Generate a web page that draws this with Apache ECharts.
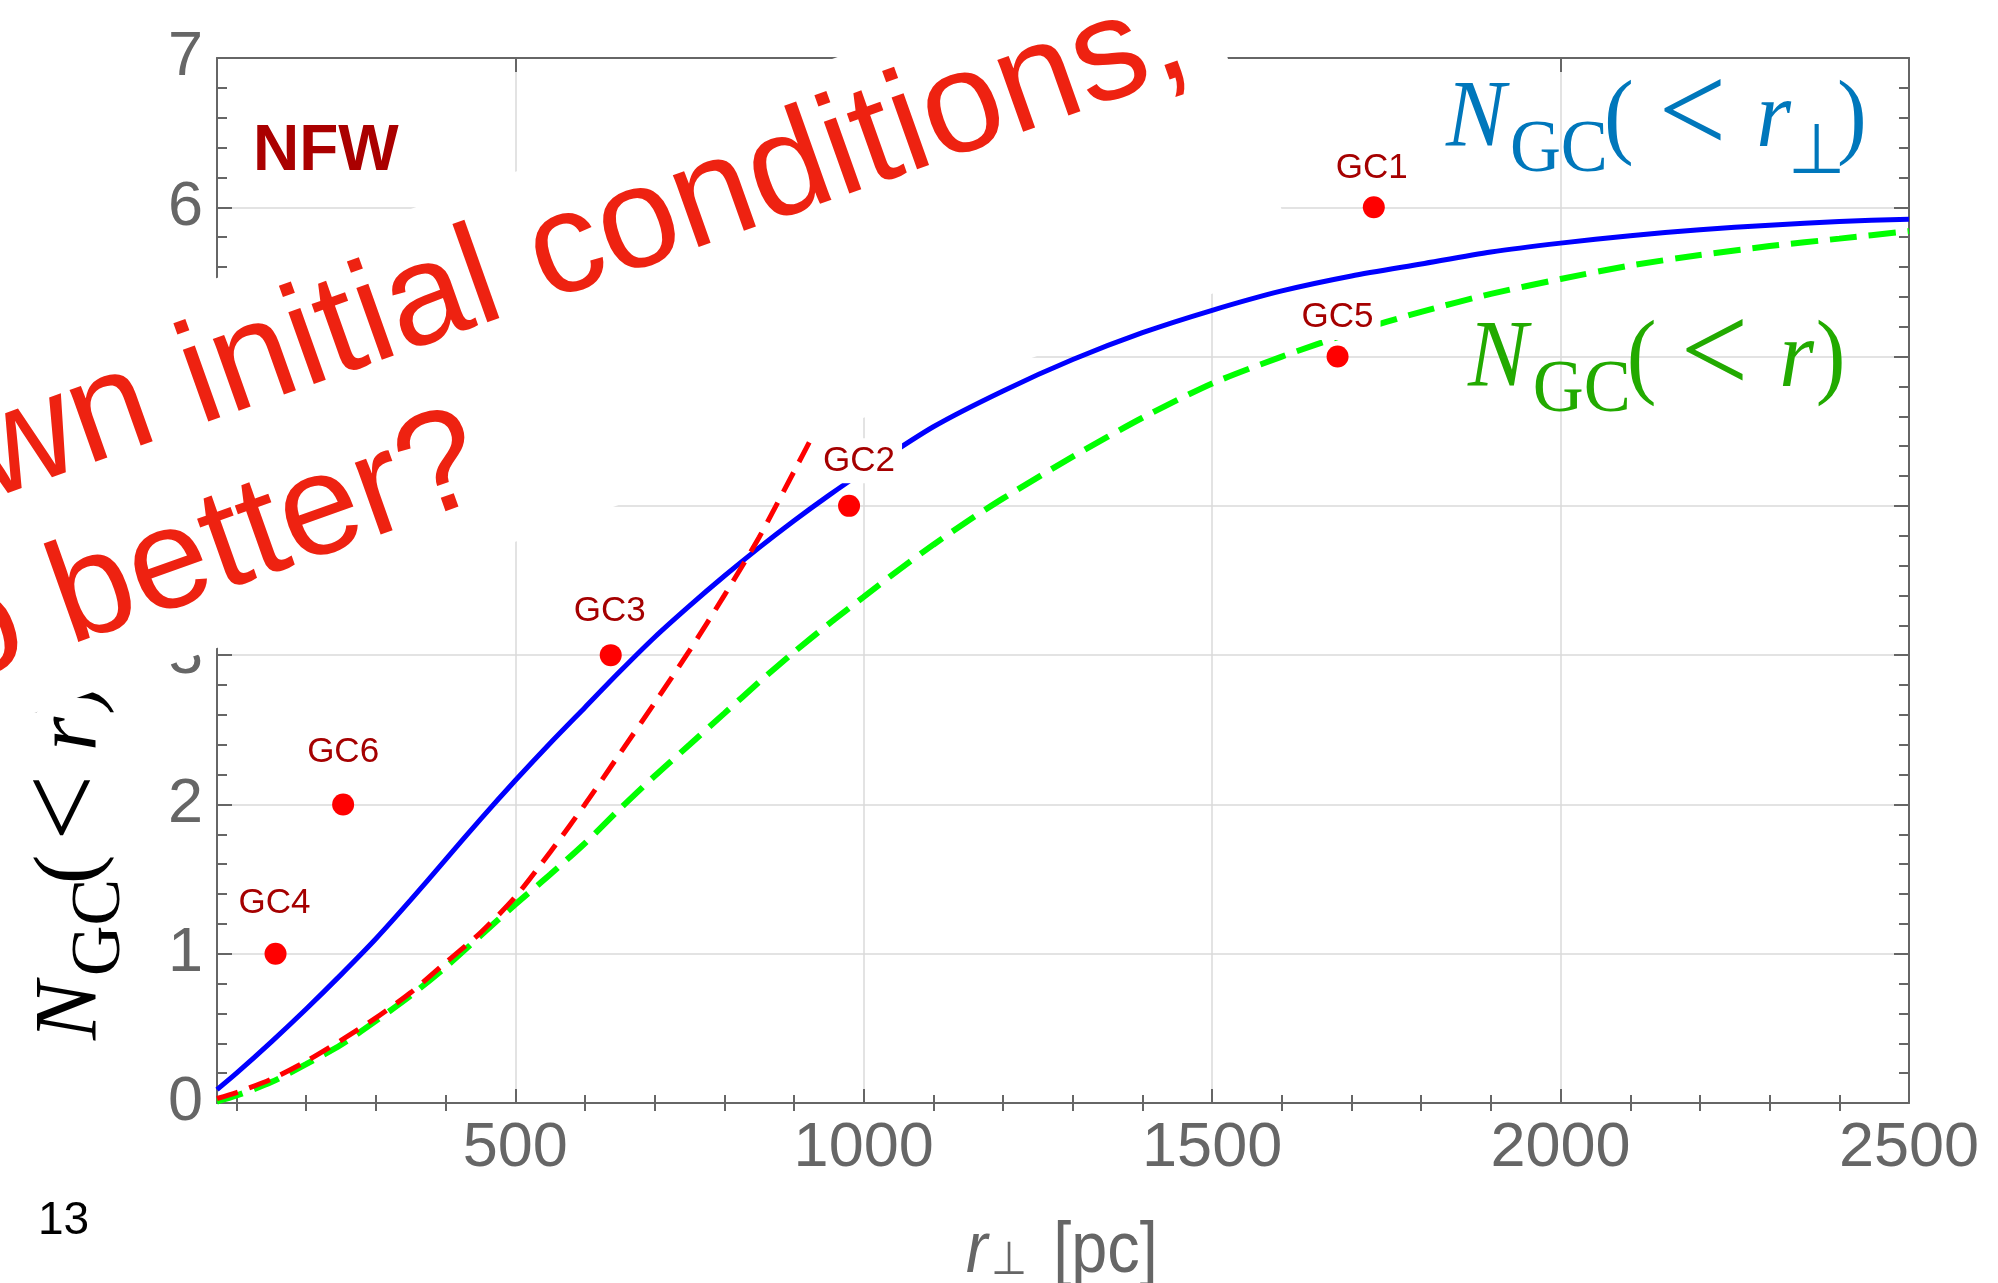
<!DOCTYPE html>
<html>
<head>
<meta charset="utf-8">
<script src="https://cdn.jsdelivr.net/npm/echarts@6/dist/echarts.min.js"></script>
<style>
  html, body { margin: 0; padding: 0; background: #ffffff; }
  #chart { width: 1998px; height: 1283px; }
</style>
</head>
<body>
<div id="chart"></div>
<script>
// Projected cumulative count N_GC(< r_perp), NFW profile
const rPerp = [72, 100, 150, 200, 250, 300, 350, 400, 450, 500, 550, 600, 650, 700, 750, 800, 850, 900, 950, 1000,
               1100, 1200, 1300, 1400, 1500, 1600, 1700, 1800, 1900, 2000, 2100, 2200, 2300, 2400, 2500];
const nPerp = [0.09, 0.20, 0.41, 0.63, 0.86, 1.10, 1.36, 1.63, 1.90, 2.16, 2.41, 2.65, 2.89, 3.12, 3.33, 3.53, 3.72, 3.90, 4.07, 4.23,
               4.53, 4.77, 4.98, 5.16, 5.31, 5.44, 5.54, 5.62, 5.70, 5.76, 5.81, 5.85, 5.88, 5.905, 5.92];

// 3D cumulative count N_GC(< r)
const r3d = [72, 100, 150, 200, 250, 300, 350, 400, 450, 500, 550, 600, 650, 700, 750, 800, 850, 900, 950, 1000,
             1050, 1100, 1150, 1200, 1300, 1400, 1500, 1600, 1700, 1800, 1900, 2000, 2100, 2200, 2300, 2400, 2500];
const n3d = [0.01, 0.05, 0.14, 0.26, 0.39, 0.55, 0.72, 0.91, 1.12, 1.33, 1.53, 1.74, 1.97, 2.19, 2.40, 2.61, 2.82, 3.02, 3.21, 3.39,
             3.57, 3.74, 3.90, 4.05, 4.33, 4.59, 4.82, 5.00, 5.16, 5.30, 5.42, 5.52, 5.61, 5.68, 5.74, 5.79, 5.84];

// Initial distribution (red dashed)
const rInit = [72, 100, 150, 200, 250, 300, 350, 400, 450, 500, 550, 600, 650, 700, 750, 800, 850, 900, 928, 950];
const nInit = [0.03, 0.07, 0.16, 0.28, 0.42, 0.57, 0.74, 0.94, 1.14, 1.38, 1.68, 2.00, 2.34, 2.68, 3.03, 3.40, 3.79, 4.23, 4.48, 4.68];

// Globular clusters: projected radius [pc] and rank
const gcNames = ['GC1', 'GC2', 'GC3', 'GC4', 'GC5', 'GC6'];
const gcR = [1732, 979, 637, 156, 1680, 253];
const gcN = [6, 4, 3, 1, 5, 2];

// Axis ticks and labels
const xTickLabels = [500, 1000, 1500, 2000, 2500];
const xMinorTicks = [100, 200, 300, 400, 600, 700, 800, 900, 1100, 1200, 1300, 1400,
                     1600, 1700, 1800, 1900, 2100, 2200, 2300, 2400];
const xMin = 72, xMax = 2500;
const yMin = 0, yMax = 7, yStep = 1;

// Label placement (pixel shift of each GC tag from its dot)
const gcLabelShift = [[-2, -39], [10, -45], [-1, -44], [-1, -50], [0, -39], [0, -52]];

const FRAME = '#666666';
const GRID = '#dadada';
const SANS = 'Liberation Sans';
const SERIF = 'Liberation Serif';

function zip(xs, ys) { return xs.map((x, i) => [x, ys[i]]); }

// Pieces of a typeset label, placed by baseline offsets
function mathPieces(pieces, color, z) {
  return pieces.map(p => ({
    type: 'text',
    x: p.dx,
    y: p.dy - 0.34 * p.size,
    z: z,
    style: {
      text: p.t, fill: color,
      fontFamily: p.family || SERIF, fontSize: p.size,
      fontStyle: p.it ? 'italic' : 'normal',
      align: 'left', verticalAlign: 'middle',
      textAlign: 'left', textVerticalAlign: 'middle'
    }
  }));
}

const perpPieces = [
  { t: 'N', dx: 0, dy: 0, size: 95, it: true },
  { t: 'GC', dx: 68, dy: 24, size: 75 },
  { t: '(', dx: 168, dy: 0, size: 95 },
  { t: '<', dx: 226, dy: 9, size: 128 },
  { t: 'r', dx: 330, dy: 0, size: 95, it: true },
  { t: '\u22A5', dx: 364, dy: 25, size: 70 },
  { t: ')', dx: 416, dy: 0, size: 95 }
];
const radPieces = [
  { t: 'N', dx: 0, dy: 0, size: 95, it: true },
  { t: 'GC', dx: 69, dy: 24, size: 75 },
  { t: '(', dx: 169, dy: 0, size: 95 },
  { t: '<', dx: 226, dy: 9, size: 128 },
  { t: 'r', dx: 331, dy: 0, size: 95, it: true },
  { t: ')', dx: 370, dy: 0, size: 95 }
];
const yTitlePieces = [
  { t: 'N', dx: 0, dy: 0, size: 88, it: true },
  { t: 'GC', dx: 64, dy: 22, size: 70 },
  { t: '(', dx: 156, dy: 0, size: 88 },
  { t: '<', dx: 199, dy: 8, size: 118 },
  { t: 'r', dx: 289, dy: 0, size: 88, it: true },
  { t: ')', dx: 325, dy: 0, size: 88 }
];

const chart = echarts.init(document.getElementById('chart'), null, { renderer: 'canvas' });

const tickLine = { color: FRAME, width: 2 };
const xBase = { type: 'value', min: xMin, max: xMax, gridIndex: 0 };
const yBase = { type: 'value', min: yMin, max: yMax, interval: yStep, gridIndex: 0 };
const plainNumber = v => String(v);

const option = {
  animation: false,
  backgroundColor: '#ffffff',
  grid: { left: 217, right: 89, top: 58, bottom: 180, containLabel: false },
  xAxis: [
    Object.assign({}, xBase, {
      position: 'bottom',
      axisLine: { show: true, onZero: false, lineStyle: tickLine },
      axisTick: { show: true, inside: true, length: 14, customValues: xTickLabels, lineStyle: tickLine },
      axisLabel: { show: true, customValues: xTickLabels, formatter: plainNumber, margin: 14,
                   fontSize: 63, color: FRAME, fontFamily: SANS },
      splitLine: { show: true, lineStyle: { color: GRID, width: 1.5 } }
    }),
    Object.assign({}, xBase, {
      position: 'bottom',
      axisLine: { show: false },
      axisTick: { show: true, inside: true, length: 8, customValues: xMinorTicks, lineStyle: tickLine },
      axisLabel: { show: false },
      splitLine: { show: false }
    }),
    Object.assign({}, xBase, {
      position: 'top',
      axisLine: { show: true, onZero: false, lineStyle: tickLine },
      axisTick: { show: true, inside: true, length: 14, customValues: xTickLabels, lineStyle: tickLine },
      axisLabel: { show: false },
      splitLine: { show: false }
    }),
    Object.assign({}, xBase, {
      position: 'top',
      axisLine: { show: false },
      axisTick: { show: true, inside: true, length: 8, customValues: xMinorTicks, lineStyle: tickLine },
      axisLabel: { show: false },
      splitLine: { show: false }
    })
  ],
  yAxis: [
    Object.assign({}, yBase, {
      position: 'left',
      axisLine: { show: true, onZero: false, lineStyle: tickLine },
      axisTick: { show: true, inside: true, length: 15, lineStyle: tickLine },
      minorTick: { show: true, splitNumber: 5, length: 10, lineStyle: tickLine },
      axisLabel: { show: true, formatter: plainNumber, margin: 14, fontSize: 63, color: FRAME, fontFamily: SANS },
      splitLine: { show: true, lineStyle: { color: GRID, width: 1.5 } }
    }),
    Object.assign({}, yBase, {
      position: 'right',
      axisLine: { show: true, onZero: false, lineStyle: tickLine },
      axisTick: { show: true, inside: true, length: 15, lineStyle: tickLine },
      minorTick: { show: true, splitNumber: 5, length: 10, lineStyle: tickLine },
      axisLabel: { show: false },
      splitLine: { show: false }
    })
  ],
  series: [
    {
      name: 'N(<r_perp)', type: 'line', xAxisIndex: 0, yAxisIndex: 0,
      data: zip(rPerp, nPerp), symbol: 'none', smooth: 0.25,
      lineStyle: { color: '#0000ff', width: 5 }, z: 3
    },
    {
      name: 'N(<r)', type: 'line', xAxisIndex: 0, yAxisIndex: 0,
      data: zip(r3d, n3d), symbol: 'none', smooth: 0.25,
      lineStyle: { color: '#00ff00', width: 6, type: [27, 12] }, z: 3
    },
    {
      name: 'initial', type: 'line', xAxisIndex: 0, yAxisIndex: 0,
      data: zip(rInit, nInit), symbol: 'none', smooth: 0.25,
      lineStyle: { color: '#ff0000', width: 5, type: [22, 12] }, z: 4
    },
    {
      name: 'GCs', type: 'scatter', xAxisIndex: 0, yAxisIndex: 0,
      symbolSize: 22, itemStyle: { color: '#ff0000', opacity: 1 }, z: 5,
      label: {
        show: true, position: 'inside', formatter: '{b}',
        fontFamily: SANS, fontSize: 35, color: '#a50000',
        backgroundColor: '#ffffff', padding: [4, 7, 6, 7]
      },
      data: gcNames.map((name, i) => ({
        name: name,
        value: [gcR[i], gcN[i]],
        label: { offset: gcLabelShift[i] }
      }))
    }
  ],
  graphic: {
    elements: [
      // model tag
      {
        type: 'text', x: 253, y: 152, z: 60,
        style: {
          text: 'NFW', fill: '#aa0000', fontFamily: SANS, fontSize: 64, fontWeight: 'bold',
          align: 'left', verticalAlign: 'middle', textAlign: 'left', textVerticalAlign: 'middle'
        }
      },
      // curve captions
      { type: 'group', x: 1446, y: 153, scaleX: 0.94, children: mathPieces(perpPieces, '#0077bb', 60) },
      { type: 'group', x: 1468, y: 393, scaleX: 0.94, children: mathPieces(radPieces, '#22aa00', 60) },
      // y-axis title
      { type: 'group', x: 102, y: 1040, rotation: Math.PI / 2, children: mathPieces(yTitlePieces, '#000000', 50) },
      // x-axis title
      {
        type: 'group', x: 966, y: 1277, scaleX: 0.9,
        children: [
          { type: 'text', x: 0, y: -0.3465 * 72, z: 50,
            style: { text: 'r', fill: FRAME, fontFamily: SANS, fontSize: 72, fontStyle: 'italic',
                     align: 'left', verticalAlign: 'middle', textAlign: 'left', textVerticalAlign: 'middle' } },
          { type: 'text', x: 28, y: -0.34 * 46, z: 50,
            style: { text: '\u22A5', fill: FRAME, fontFamily: SANS, fontSize: 46,
                     align: 'left', verticalAlign: 'middle', textAlign: 'left', textVerticalAlign: 'middle' } },
          { type: 'text', x: 97, y: -0.3465 * 72, z: 50,
            style: { text: '[pc]', fill: FRAME, fontFamily: SANS, fontSize: 72,
                     align: 'left', verticalAlign: 'middle', textAlign: 'left', textVerticalAlign: 'middle' } }
        ]
      },
      // page number
      {
        type: 'text', x: 38, y: 1221, z: 60,
        style: { text: '13', fill: '#000000', fontFamily: SANS, fontSize: 46,
                 align: 'left', verticalAlign: 'middle', textAlign: 'left', textVerticalAlign: 'middle' }
      },
      // tilted question over a white band
      {
        type: 'group', x: 1300.4, y: 262.3, rotation: 0.342,
        children: [
          { type: 'rect', z: 100, shape: { x: -1900, y: -348.6, width: 1900, height: 348.6 },
            style: { fill: '#ffffff' } },
          { type: 'text', x: -1316, y: -206 - 0.3465 * 144, z: 101,
            style: { text: 'wn initial conditions,', fill: '#ee2211', fontFamily: SANS, fontSize: 144,
                     align: 'left', verticalAlign: 'middle', textAlign: 'left', textVerticalAlign: 'middle' } },
          { type: 'text', x: -1408, y: -42 - 0.3465 * 144, z: 101,
            style: { text: 'o better?', fill: '#ee2211', fontFamily: SANS, fontSize: 144,
                     align: 'left', verticalAlign: 'middle', textAlign: 'left', textVerticalAlign: 'middle' } }
        ]
      }
    ]
  }
};

chart.setOption(option);
</script>
</body>
</html>
